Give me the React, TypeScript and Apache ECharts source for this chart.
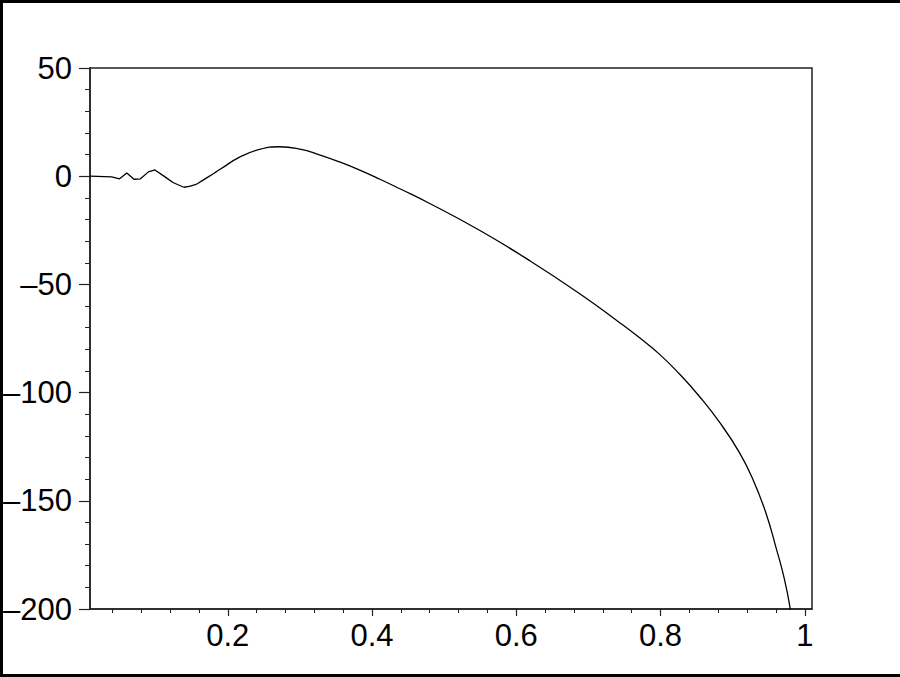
import React, { useEffect, useRef } from "react";
import * as echarts from "echarts";

// Curve samples (x, y)
const xValues = [
  0.009, 0.039, 0.05, 0.06, 0.07, 0.079, 0.09, 0.099, 0.113, 0.124, 0.139, 0.154,
  0.163, 0.1815, 0.19, 0.217, 0.244, 0.272, 0.3, 0.327, 0.355, 0.383, 0.411, 0.438,
  0.48, 0.549, 0.618, 0.688, 0.743, 0.771, 0.798, 0.826, 0.854, 0.882, 0.909, 0.928,
  0.946, 0.96, 0.9716, 0.98,
];
const yValues = [
  0, -0.3, -1.2, 1.5, -1.4, -1.2, 2.0, 2.9, -0.3, -2.9, -5.1, -4.0,
  -2.4, 1.5, 3.3, 8.9, 12.4, 13.6, 12.5, 9.9, 6.6, 2.8, -1.4, -5.7,
  -12.6, -25.0, -38.9, -54.3, -67.6, -74.7, -82.1, -91.3, -101.8, -113.8, -127.5, -140.0,
  -155.5, -171.5, -186.0, -200.2,
];
// index where the jagged start of the curve gives way to the smooth part
const smoothFrom = 10;

const xMajorTicks = [0.2, 0.4, 0.6, 0.8, 1];
const xMinorTicks = [
  0.04, 0.08, 0.12, 0.16, 0.24, 0.28, 0.32, 0.36, 0.44, 0.48, 0.52, 0.56,
  0.64, 0.68, 0.72, 0.76, 0.84, 0.88, 0.92, 0.96,
];
const yMin = -200;
const yMax = 50;
const yStep = 50;
const xMin = 0.009;
const xMax = 1.01;

const FONT = "'Liberation Sans', Arial, Helvetica, sans-serif";

export default function App() {
  const ref = useRef<HTMLDivElement>(null);

  useEffect(() => {
    if (!ref.current) return;
    const chart = echarts.init(ref.current, undefined, { renderer: "svg" });
    const data = xValues.map((x, i) => [x, yValues[i]]);
    const jagged = data.slice(0, smoothFrom + 1);
    const smoothPart = data.slice(smoothFrom);
    const axisColor = "#222";
    const lineStyle = { color: "#000", width: 1.3 };
    chart.setOption({
      animation: false,
      backgroundColor: "#fff",
      textStyle: { fontFamily: FONT },
      grid: {
        left: 90,
        top: 68,
        width: 722,
        height: 541,
        show: true,
        borderColor: axisColor,
        borderWidth: 1.5,
        backgroundColor: "transparent",
      },
      xAxis: [
        {
          type: "value",
          min: xMin,
          max: xMax,
          position: "bottom",
          axisLine: { show: true, onZero: false, lineStyle: { color: axisColor, width: 1.5 } },
          axisTick: {
            show: true,
            length: 7,
            customValues: xMajorTicks,
            lineStyle: { color: axisColor, width: 1.2 },
          },
          axisLabel: {
            show: true,
            customValues: xMajorTicks,
            margin: 11,
            fontSize: 31,
            color: "#000",
            fontFamily: FONT,
            formatter: (v: number) => (Math.abs(v - 1) < 1e-9 ? "1" : v.toFixed(1)),
          },
          splitLine: { show: false },
        },
        {
          type: "value",
          min: xMin,
          max: xMax,
          position: "bottom",
          axisLine: { show: false, onZero: false },
          axisTick: {
            show: true,
            length: 4,
            customValues: xMinorTicks,
            lineStyle: { color: axisColor, width: 1 },
          },
          axisLabel: { show: false },
          splitLine: { show: false },
        },
      ],
      yAxis: {
        type: "value",
        min: yMin,
        max: yMax,
        interval: yStep,
        axisLine: { show: true, onZero: false, lineStyle: { color: axisColor, width: 1.5 } },
        axisTick: { show: true, length: 11, lineStyle: { color: axisColor, width: 1.2 } },
        minorTick: { show: true, splitNumber: 5, length: 5, lineStyle: { color: axisColor, width: 1 } },
        axisLabel: {
          margin: 18,
          fontSize: 31,
          color: "#000",
          fontFamily: FONT,
          formatter: (v: number) => (v < 0 ? "\u2013" + Math.abs(v) : String(v)),
        },
        splitLine: { show: false },
        minorSplitLine: { show: false },
      },
      series: [
        {
          type: "line",
          data: jagged,
          xAxisIndex: 0,
          showSymbol: false,
          symbol: "none",
          smooth: false,
          clip: true,
          lineStyle,
        },
        {
          type: "line",
          data: smoothPart,
          xAxisIndex: 0,
          showSymbol: false,
          symbol: "none",
          smooth: 0.5,
          clip: true,
          lineStyle,
        },
      ],
      graphic: [
        { type: "rect", z: 100, shape: { x: 0, y: 0, width: 900, height: 3 }, style: { fill: "#000" } },
        { type: "rect", z: 100, shape: { x: 0, y: 0, width: 3, height: 677 }, style: { fill: "#000" } },
        { type: "rect", z: 100, shape: { x: 0, y: 674, width: 900, height: 3 }, style: { fill: "#000" } },
      ],
    });
    return () => chart.dispose();
  }, []);

  return (
    <div
      ref={ref}
      style={{ position: "fixed", left: 0, top: 0, width: 900, height: 677, background: "#fff" }}
    />
  );
}
